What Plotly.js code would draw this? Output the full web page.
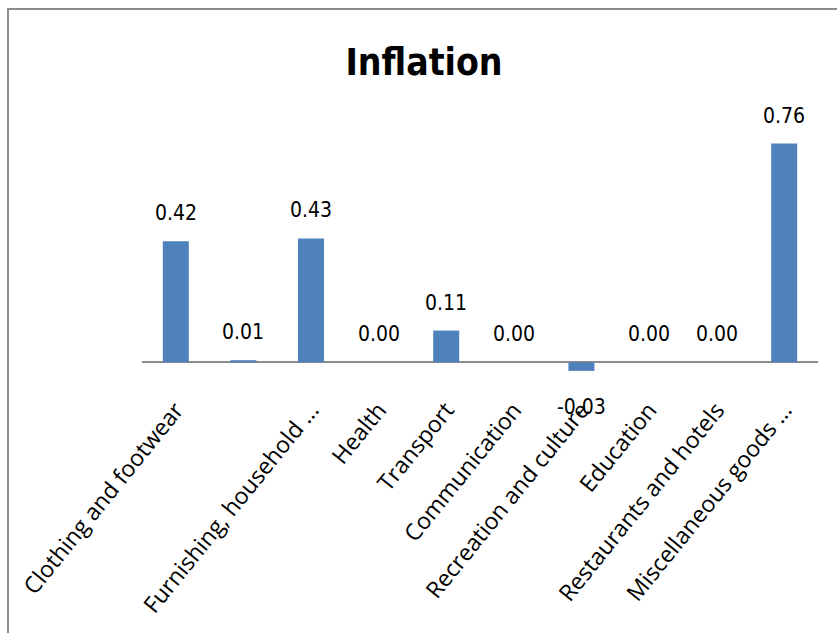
<!DOCTYPE html>
<html>
<head>
<meta charset="utf-8">
<script src="https://cdn.plot.ly/plotly-3.0.1.min.js"></script>
<style>
  html, body { margin: 0; padding: 0; background: #fff; }
  #frame { position: absolute; left: 7px; top: 8px; width: 900px; height: 700px;
           border: 2px solid #8c8c8c; box-sizing: border-box; }
  #chart { position: absolute; left: 0; top: 0; width: 837px; height: 633px; }
  .gtitle, .annotation-text { font-stretch: condensed !important; }
</style>
</head>
<body>
<div id="frame"></div>
<div id="chart"></div>
<script>
const categories = [
  "Clothing and footwear",
  "",
  "Furnishing, household ...",
  "Health",
  "Transport",
  "Communication",
  "Recreation and culture",
  "Education",
  "Restaurants and hotels",
  "Miscellaneous goods ..."
];
const values = [0.42, 0.007, 0.43, 0.00, 0.11, 0.00, -0.03, 0.00, 0.00, 0.76];

const xIdx = values.map((v, i) => i);

const trace = {
  type: 'bar',
  x: xIdx,
  y: values,
  marker: { color: '#4F81BD' },
  hoverinfo: 'skip'
};

const condFont = '"DejaVu Sans Condensed", "DejaVu Sans", sans-serif';

const annotations = values.map((v, i) => ({
  x: i,
  y: v,
  xref: 'x',
  yref: 'y',
  text: v.toFixed(2),
  showarrow: false,
  yanchor: v < 0 ? 'top' : 'bottom',
  yshift: v < 0 ? -22 : 14,
  font: { family: condFont, size: 21, color: '#000' }
}));

const layout = {
  width: 837,
  height: 633,
  paper_bgcolor: 'rgba(0,0,0,0)',
  plot_bgcolor: 'rgba(0,0,0,0)',
  margin: { l: 142, r: 19, t: 132, b: 242 },
  showlegend: false,
  bargap: 0.615,
  title: {
    text: '<b>Inflation</b>',
    x: 424 / 837,
    xref: 'container',
    xanchor: 'center',
    y: 1 - 62 / 633,
    yref: 'container',
    yanchor: 'middle',
    font: { family: condFont, size: 37, color: '#000' }
  },
  xaxis: {
    type: 'linear',
    range: [-0.5, 9.5],
    tickmode: 'array',
    tickvals: xIdx,
    ticktext: categories,
    tickangle: -51,
    showgrid: false,
    zeroline: false,
    showline: false,
    ticks: '',
    tickfont: { family: '"Open Sans", sans-serif', size: 23, color: '#000' }
  },
  yaxis: {
    range: [-0.1, 0.8],
    showgrid: false,
    showticklabels: false,
    ticks: '',
    showline: false,
    zeroline: true,
    zerolinecolor: '#8c8c8c',
    zerolinewidth: 2
  },
  annotations: annotations
};

Plotly.newPlot('chart', [trace], layout, { displayModeBar: false, staticPlot: true });
</script>
</body>
</html>
